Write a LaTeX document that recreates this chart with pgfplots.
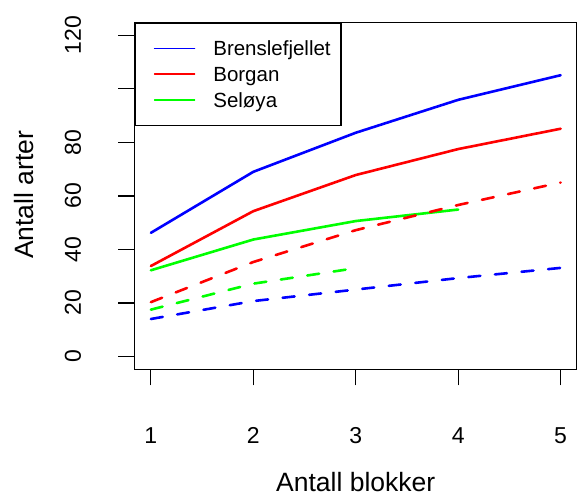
\documentclass[border=0pt]{standalone}
\usepackage{fontspec}
\setmainfont{Liberation Sans}
\usepackage{pgfplots}
\pgfplotsset{compat=1.18}
\definecolor{rblue}{rgb}{0,0,1}
\definecolor{rred}{rgb}{1,0,0}
\definecolor{rgreen}{rgb}{0,1,0}

\pgfplotsset{
  solidline/.style={line width=2.6pt, line join=round, line cap=round},
  dashline/.style={line width=2.6pt, line join=round, line cap=round, dash pattern=on 12pt off 14.7pt},
}

\begin{document}
\begin{tikzpicture}[x=1pt,y=1pt]
\useasboundingbox (0,0) rectangle (577,496);
\begin{axis}[
  at={(134.5pt,126.7pt)}, anchor=south west,
  scale only axis, width=442.5pt, height=346.8pt,
  xmin=0.84, xmax=5.16, ymin=-4.8, ymax=124.8,
  axis line style={line width=1.2pt, black},
  tick align=outside, tick pos=left, major tick length=16pt,
  every tick/.style={black, line width=1.2pt},
  xtick={1,2,3,4,5},
  ytick={0,20,40,60,80,100,120},
  yticklabels={0,20,40,60,80,,120},
  /pgf/number format/assume math mode=true,
  tick label style={font=\fontsize{23}{23}\selectfont, inner sep=0pt},
  xticklabel style={yshift=-58pt, anchor=base},
  yticklabel style={xshift=-37.5pt, rotate=90, anchor=base},
  xlabel={Antall blokker},
  ylabel={Antall arter},
  label style={font=\fontsize{26.5}{26.5}\selectfont, inner sep=0pt},
  xlabel style={at={(axis description cs:0.5,-0.351)}, anchor=base},
  ylabel style={at={(axis description cs:-0.228,0.503)}, anchor=base},
  legend style={
    at={(axis description cs:0,1)}, anchor=north west,
    draw=black, line width=1.2pt, fill=white,
    inner xsep=10.3pt, inner ysep=14.5pt, row sep=3.8pt, column sep=18pt,
    font=\fontsize{20.5}{20.5}\selectfont,
    cells={anchor=base west},
    nodes={inner sep=0pt, text height=18pt, text depth=4pt},
  },
  legend image code/.code={
    \path (0pt,0pt);
    \draw[#1, line width=1.5pt, solid] (7.9pt,7.3pt) -- (47.9pt,7.3pt);
  },
]
% solid lines: all species
\addplot[rblue, solidline] coordinates {(1,46.2) (2,69.0) (3,83.6) (4,95.9) (5,105.1)};
\addplot[rred, solidline] coordinates {(1,33.8) (2,54.3) (3,67.8) (4,77.5) (5,85.1)};
\addplot[rgreen, solidline] coordinates {(1,32.2) (2,43.7) (3,50.6) (4,54.9)};
\legend{Brenslefjellet, Borgan, Seløya}
% dashed lines: second group
\addplot[rred, dashline, forget plot] coordinates {(1,20.3) (2,35.3) (3,47.2) (4,56.6) (5,65.0)};
\addplot[rgreen, dashline, forget plot] coordinates {(1,17.5) (2,27.2) (3,33.0)};
\addplot[rblue, dashline, forget plot] coordinates {(1,14.0) (2,20.7) (3,25.0) (4,29.3) (5,33.1)};
\end{axis}
\end{tikzpicture}
\end{document}
